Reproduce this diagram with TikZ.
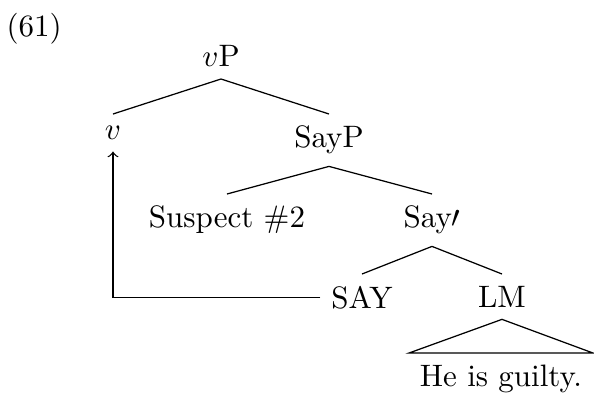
\documentclass[tikz,border=0pt]{standalone}
\usetikzlibrary{positioning}

\tikzset{
  cat/.style={anchor=north, inner ysep=3.7pt},
  roof/.style={anchor=north, inner ysep=3.7pt},
}

\begin{document}
\begin{tikzpicture}[x=0.3226pt, y=-0.3226pt]
\useasboundingbox (0,0) rectangle (594,392);

\node[anchor=base west, inner sep=0pt] (exno) at (6,36) {(61)};

% vP
\node[anchor=south, inner ysep=3.7pt] (vP) at (221,79) {$v$P};

% v, SayP
\node[cat] (v)    at (113,114) {$v$};
\node[cat] (SayP) at (329,114) {SayP};
\draw (vP.south) -- (v.north);
\draw (vP.south) -- (SayP.north);

% Suspect #2, Say'
\node[cat] (spec)   at (227,194) {Suspect \#2};
\node[cat] (Saybar) at (432,194) {Say$\prime$};
\draw (SayP.south) -- (spec.north);
\draw (SayP.south) -- (Saybar.north);

% SAY, LM
\node[cat] (SAY) at (362,274) {SAY};
\node[cat] (LM)  at (502,274) {LM};
\draw (Saybar.south) -- (SAY.north);
\draw (Saybar.south) -- (LM.north);

% LM roof
\node[roof] (guilty) at (501,353) {He is guilty.};
\draw (LM.south) -- (guilty.north west) -- (guilty.north east) -- cycle;

% head movement
\draw[->] (SAY.west) -| (v.south);
\end{tikzpicture}
\end{document}
